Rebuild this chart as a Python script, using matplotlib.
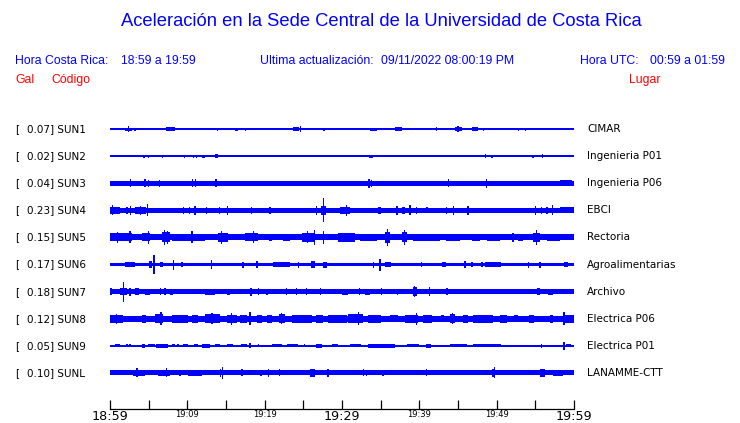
from matplotlib import pyplot as plt
from matplotlib.transforms import blended_transform_factory

BLUE = '#0000ff'

codes = ['SUN1', 'SUN2', 'SUN3', 'SUN4', 'SUN5', 'SUN6', 'SUN7', 'SUN8', 'SUN9', 'SUNL']
peaks = [0.07, 0.02, 0.04, 0.23, 0.15, 0.17, 0.18, 0.12, 0.05, 0.10]
places = ['CIMAR', 'Ingenieria P01', 'Ingenieria P06', 'EBCI', 'Rectoria',
          'Agroalimentarias', 'Archivo', 'Electrica P06', 'Electrica P01', 'LANAMME-CTT']

# background noise level of each trace (half thickness, arbitrary units)
noise = [0.9, 0.8, 2.5, 2.5, 3.0, 1.8, 2.5, 3.0, 0.9, 2.5]

# bursts: (start minute, end minute, half amplitude)
bursts_sun1 = [(1.9, 2.8, 1.5), (2.37, 2.37, 3.3), (3.23, 3.23, 1.5), (4.5, 5.6, 1.3), (6.04, 6.04, 1.2),
               (6.47, 6.47, 1.2), (7.3, 8.4, 1.6), (8.6, 8.6, 1.3), (9.3, 11.6, 1.4), (13.4, 13.4, 1.3),
               (13.9, 13.9, 1.5), (14.4, 14.4, 1.3), (16.2, 16.6, 1.5), (17.5, 17.5, 1.5), (19.0, 19.0, 1.3),
               (21.6, 21.6, 1.3), (22.0, 22.0, 1.2), (22.6, 22.6, 1.2), (23.3, 23.3, 1.3), (23.7, 24.4, 1.6),
               (24.6, 24.6, 3.3), (26.5, 26.5, 1.3), (26.9, 26.9, 1.2), (27.6, 27.8, 1.5), (28.4, 28.4, 1.2),
               (29.1, 29.1, 1.3), (29.7, 32.1, 1.4), (32.5, 32.5, 1.2), (33.6, 34.5, 1.5), (34.9, 35.6, 1.3),
               (36.2, 36.6, 1.3), (36.9, 37.7, 2.0), (38.6, 38.6, 1.4), (39.0, 40.3, 1.4), (42.2, 42.2, 2.2),
               (43.1, 43.1, 1.3), (44.0, 44.0, 1.3), (44.6, 45.5, 1.8), (45.0, 45.0, 3.2), (46.8, 47.6, 1.6),
               (48.3, 48.3, 1.5), (49.1, 49.1, 1.2), (51.3, 51.3, 1.3), (51.9, 51.9, 1.3), (52.8, 52.8, 1.5),
               (53.7, 53.7, 1.5), (55.2, 55.2, 1.2), (56.7, 56.7, 1.3), (57.1, 57.1, 1.3), (58.6, 58.6, 1.3),
               (59.2, 59.2, 1.3)]
bursts_sun2 = [(4.3, 4.5, 1.6), (4.95, 4.95, 1.6), (6.47, 6.47, 1.3), (6.77, 6.77, 1.5), (7.3, 7.3, 1.2),
               (9.05, 9.05, 1.3), (9.6, 9.6, 1.6), (10.8, 10.8, 1.4), (11.2, 11.2, 1.6), (11.9, 12.3, 1.6),
               (13.6, 14.0, 1.8), (18.1, 18.1, 1.2), (33.5, 34.0, 1.6), (41.2, 41.2, 1.3), (41.5, 41.5, 1.3),
               (48.2, 48.2, 1.3), (48.6, 48.6, 2.0), (49.3, 49.5, 1.6), (54.7, 54.7, 1.4), (55.9, 55.9, 1.7),
               (58.7, 58.7, 1.2)]
bursts_sun3 = [(2.67, 2.67, 4.2), (4.4, 4.65, 4.0), (4.95, 4.95, 3.7), (6.4, 6.4, 3.7), (10.65, 10.65, 4.0),
               (11.1, 11.1, 4.0), (13.6, 13.9, 4.0), (33.5, 33.5, 4.3), (33.8, 33.8, 3.5), (43.75, 43.75, 4.0),
               (48.7, 48.7, 4.3), (58.2, 59.8, 2.9)]
bursts_sun4 = [(0.0, 1.3, 3.6), (0.3, 0.3, 5.0), (2.2, 2.2, 3.6), (2.7, 2.7, 4.2), (3.2, 4.7, 3.6),
               (4.87, 4.87, 6.0), (3.9, 3.9, 4.6), (9.5, 9.5, 3.6), (10.3, 10.3, 3.6), (11.0, 11.0, 4.2),
               (12.5, 12.5, 3.2), (14.2, 14.2, 3.2), (15.2, 15.2, 4.5), (18.3, 18.3, 3.6), (20.7, 20.7, 3.2),
               (26.7, 26.7, 4.2), (27.3, 27.9, 4.5), (27.6, 27.6, 12.0), (29.7, 31.0, 3.4), (30.6, 30.6, 5.2),
               (34.7, 35.1, 3.6), (37.1, 37.1, 4.6), (37.7, 38.1, 3.6), (38.8, 38.8, 5.0), (39.6, 39.6, 3.6),
               (41.0, 41.0, 3.0), (43.5, 43.5, 3.2), (44.4, 44.4, 4.6), (46.3, 46.3, 4.2), (55.05, 55.05, 4.2),
               (55.8, 55.8, 3.6), (56.5, 56.5, 3.6), (57.2, 57.2, 5.0), (58.2, 60.0, 3.0)]
bursts_sun5 = [(0.0, 2.8, 4.0), (1.0, 1.0, 5.5), (2.6, 2.6, 6.0), (4.1, 5.2, 4.0), (4.95, 4.95, 6.5),
               (6.7, 7.8, 5.0), (7.0, 7.0, 7.2), (7.4, 7.4, 6.5), (8.0, 12.3, 3.8), (10.6, 10.6, 6.0),
               (14.0, 15.3, 4.3), (14.4, 14.4, 6.2), (17.5, 19.2, 4.0), (18.6, 18.6, 6.0), (20.5, 20.9, 3.8),
               (22.4, 23.3, 3.8), (24.8, 26.5, 4.6), (26.4, 26.4, 7.5), (25.5, 25.5, 6.0), (27.6, 27.6, 6.5),
               (29.5, 31.7, 4.2), (32.3, 34.5, 3.8), (35.6, 36.2, 5.5), (35.9, 35.9, 8.2), (37.7, 38.4, 5.0),
               (38.1, 38.1, 7.2), (39.2, 42.7, 3.5), (43.5, 45.3, 3.8), (46.8, 47.8, 3.8), (48.7, 50.4, 3.5),
               (52.1, 52.1, 4.5), (52.8, 53.4, 3.8), (54.7, 55.6, 4.8), (55.2, 55.2, 7.2), (56.5, 58.2, 3.5)]
bursts_sun6 = [(1.9, 3.2, 2.3), (5.1, 5.4, 3.2), (5.7, 5.7, 9.5), (6.5, 6.9, 2.7), (8.2, 8.2, 5.0),
               (9.3, 9.3, 2.5), (13.15, 13.15, 4.5), (17.2, 17.2, 3.0), (19.0, 19.0, 3.5), (21.1, 23.3, 2.2),
               (24.35, 24.35, 3.0), (25.95, 26.5, 3.4), (27.5, 28.1, 3.0), (34.05, 34.05, 3.0),
               (34.9, 34.9, 6.0), (35.6, 36.4, 2.7), (40.3, 40.3, 2.5), (42.9, 43.5, 2.3), (45.9, 45.9, 3.5),
               (46.8, 46.8, 2.6), (48.1, 48.1, 2.6), (48.5, 50.5, 2.2), (54.1, 54.1, 3.0), (55.6, 55.6, 3.0),
               (58.7, 59.2, 2.3)]
bursts_sun7 = [(0.0, 0.2, 3.6), (1.3, 2.2, 3.5), (1.7, 1.7, 10.0), (2.6, 2.6, 4.0), (3.2, 3.7, 3.8),
               (4.5, 5.2, 3.0), (6.5, 6.5, 3.2), (7.1, 7.1, 3.2), (7.8, 8.2, 3.0), (12.3, 13.6, 3.0),
               (15.1, 15.5, 3.0), (18.1, 18.3, 4.0), (19.2, 19.2, 3.2), (20.3, 20.3, 3.0), (22.85, 22.85, 3.6),
               (24.1, 24.1, 3.2), (25.4, 25.4, 3.2), (27.2, 27.2, 3.2), (30.0, 30.8, 3.0), (32.3, 32.3, 3.2),
               (33.0, 33.6, 3.0), (35.1, 35.1, 3.2), (37.2, 37.2, 3.0), (39.2, 39.7, 4.5), (39.4, 39.4, 5.5),
               (41.3, 41.3, 4.5), (43.5, 43.75, 3.2), (51.5, 51.5, 2.8), (55.2, 55.6, 3.3), (56.6, 57.3, 3.0),
               (58.2, 58.2, 2.8)]
bursts_sun8 = [(0.0, 1.7, 4.0), (0.8, 0.8, 5.0), (4.1, 4.7, 4.0), (5.8, 6.9, 4.5), (6.6, 6.6, 6.5),
               (8.0, 10.1, 3.8), (10.6, 11.4, 4.0), (12.3, 14.2, 4.3), (13.2, 13.2, 5.5), (15.1, 16.4, 4.0),
               (15.7, 15.7, 6.2), (16.8, 17.7, 4.0), (18.1, 18.1, 6.5), (19.0, 19.6, 3.8), (20.3, 21.0, 3.8),
               (21.8, 22.6, 4.3), (22.2, 22.2, 5.5), (23.5, 26.1, 3.8), (26.7, 27.6, 4.0), (28.2, 30.6, 3.8),
               (30.8, 32.7, 4.3), (32.1, 32.1, 6.5), (33.4, 35.1, 4.0), (36.2, 37.2, 3.6), (38.1, 39.8, 4.0),
               (39.6, 39.6, 6.2), (40.5, 41.6, 4.0), (42.8, 43.2, 3.6), (44.0, 44.6, 4.3), (44.3, 44.3, 5.5),
               (45.7, 46.3, 4.0), (47.0, 49.5, 3.8), (50.4, 51.3, 4.0), (52.2, 52.8, 3.6), (54.2, 54.8, 3.8),
               (56.9, 57.3, 3.8), (58.6, 60.0, 4.2), (58.7, 58.7, 6.5)]
bursts_sun9 = [(0.65, 1.3, 1.6), (2.2, 2.2, 1.6), (2.6, 2.6, 1.6), (4.1, 4.5, 1.8), (4.95, 5.8, 1.6),
               (6.0, 7.5, 1.8), (8.0, 8.4, 1.6), (8.8, 8.8, 1.5), (9.5, 10.1, 1.6), (10.8, 11.4, 1.6),
               (11.9, 12.9, 1.8), (13.6, 14.2, 1.6), (15.1, 15.9, 1.6), (17.0, 17.7, 1.6), (18.1, 18.1, 2.5),
               (19.2, 19.2, 1.5), (20.9, 22.2, 1.6), (22.85, 24.35, 1.6), (25.2, 25.2, 1.5), (26.7, 27.4, 1.8),
               (28.7, 29.5, 1.6), (31.0, 32.5, 1.6), (33.4, 36.9, 1.7), (38.4, 39.9, 1.6), (40.9, 41.5, 1.8),
               (44.0, 46.1, 1.6), (47.0, 50.6, 1.6), (55.8, 55.8, 1.7), (58.7, 58.7, 4.0), (59.0, 59.6, 1.5)]
bursts_sunl = [(3.0, 4.5, 3.2), (3.5, 3.5, 4.5), (6.25, 7.8, 3.2), (7.3, 7.3, 4.5), (9.05, 9.05, 3.0),
               (10.1, 11.9, 3.1), (14.3, 14.3, 4.0), (14.5, 14.65, 6.0), (17.0, 17.2, 3.5), (19.4, 19.6, 3.0),
               (20.5, 20.5, 4.0), (21.8, 22.0, 3.5), (25.9, 26.5, 3.6), (28.2, 28.2, 4.0), (32.8, 32.8, 3.5),
               (33.2, 33.2, 3.0), (35.3, 35.3, 2.8), (40.95, 40.95, 3.5), (49.4, 49.8, 4.0), (49.7, 49.7, 5.5),
               (55.6, 56.25, 4.0), (57.3, 58.6, 3.0)]

bursts = [bursts_sun1, bursts_sun2, bursts_sun3, bursts_sun4, bursts_sun5,
          bursts_sun6, bursts_sun7, bursts_sun8, bursts_sun9, bursts_sunl]

label_minutes = [0, 10, 20, 30, 40, 50, 60]
tick_labels = ['18:59', '19:09', '19:19', '19:29', '19:39', '19:49', '19:59']
between_minutes = [5, 15, 25, 35, 45, 55]
big_labels = ['18:59', '19:29', '19:59']

AMP = 1 / 27.1   # amplitude units -> trace spacing
SPIKE = 0.16     # minimum drawn width of a single spike (minutes)

fig = plt.figure(figsize=(7.4, 4.23), dpi=100)
ax = fig.add_axes([110 / 740, 14 / 423, 464 / 740, 294 / 423])

for row, (level, events) in enumerate(zip(noise, bursts)):
    ax.bar(0, 2 * level * AMP, width=60, bottom=row - level * AMP, align='edge', color=BLUE, linewidth=0)
    for start, end, half in events:
        width = max(end - start, SPIKE)
        left = start if end > start else start - SPIKE / 2
        ax.bar(left, 2 * half * AMP, width=width, bottom=row - half * AMP,
               align='edge', color=BLUE, linewidth=0)

ax.set_xlim(0, 60)
ax.set_ylim(10.33, -0.517)
for side in ['left', 'right', 'top']:
    ax.spines[side].set_visible(False)
ax.spines['bottom'].set_linewidth(0.9)
ax.set_yticks([])
ax.set_xticks(label_minutes, tick_labels)
ax.set_xticks(between_minutes, minor=True)
ax.tick_params(axis='x', which='both', direction='in', length=6.5, width=0.9, pad=1)
for lab in ax.get_xticklabels():
    lab.set_fontsize(9.2 if lab.get_text() in big_labels else 6)

trans = blended_transform_factory(ax.transAxes, ax.transData)
for row, (code, peak, place) in enumerate(zip(codes, peaks, places)):
    ax.text((15 - 110) / 464, row, '[', transform=trans, fontsize=7.5, va='center', clip_on=False)
    ax.text((27 - 110) / 464, row, f'{peak:.2f}] {code}', transform=trans, fontsize=7.5,
            va='center', clip_on=False)
    ax.text((587 - 110) / 464, row, place, transform=trans, fontsize=7.5, va='center', clip_on=False)

head = dict(family='Liberation Sans', color=BLUE, va='center')
fig.text(381 / 740, 1 - 22 / 423, 'Aceleración en la Sede Central de la Universidad de Costa Rica',
         fontsize=13.2, ha='center', **head)
fig.text(15 / 740, 1 - 61 / 423, 'Hora Costa Rica:', fontsize=8.8, **head)
fig.text(121 / 740, 1 - 61 / 423, '18:59 a 19:59', fontsize=8.8, **head)
fig.text(260 / 740, 1 - 61 / 423, 'Ultima actualización:', fontsize=8.8, **head)
fig.text(381 / 740, 1 - 61 / 423, '09/11/2022 08:00:19 PM', fontsize=8.8, **head)
fig.text(580 / 740, 1 - 61 / 423, 'Hora UTC:', fontsize=8.8, **head)
fig.text(650 / 740, 1 - 61 / 423, '00:59 a 01:59', fontsize=8.8, **head)

red = dict(family='Liberation Sans', color='#ff0000', va='center', fontsize=8.8)
fig.text(15 / 740, 1 - 80 / 423, 'Gal', **red)
fig.text(51 / 740, 1 - 80 / 423, 'Código', **red)
fig.text(629 / 740, 1 - 80 / 423, 'Lugar', **red)

fig.savefig('out.png', dpi=100)
